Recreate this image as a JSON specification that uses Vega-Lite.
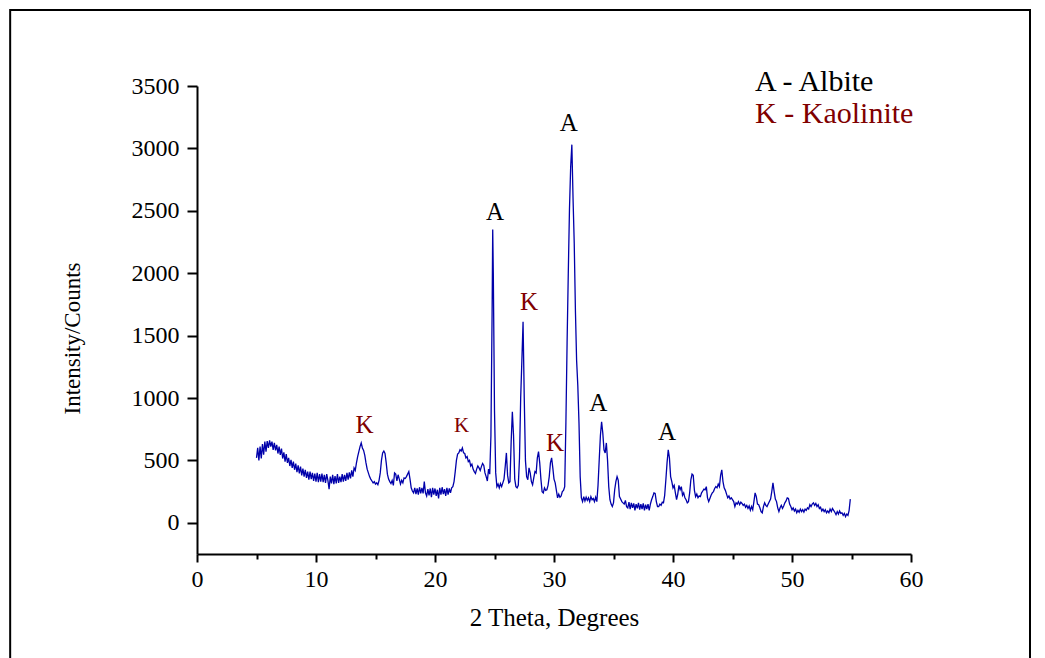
{
  "$schema": "https://vega.github.io/schema/vega-lite/v6.json",
  "width": 714,
  "height": 468,
  "autosize": {"type": "none"},
  "padding": {"left": 197, "top": 86, "right": 134, "bottom": 104},
  "background": "white",
  "config": {
    "view": {"stroke": null},
    "font": "'Liberation Serif', 'DejaVu Serif', serif",
    "text": {"font": "'Liberation Serif', 'DejaVu Serif', serif"},
    "axis": {
      "grid": false,
      "labelFlush": false,
      "labelOverlap": false,
      "domainColor": "black",
      "domainWidth": 2,
      "tickColor": "black",
      "tickWidth": 2,
      "labelColor": "black",
      "labelFont": "'Liberation Serif', 'DejaVu Serif', serif",
      "labelFontSize": 24,
      "titleFont": "'Liberation Serif', 'DejaVu Serif', serif",
      "titleFontWeight": "normal",
      "titleColor": "black"
    }
  },
  "datasets": {
    "xrd": [
      {"theta":5.0,"counts":520},{"theta":5.1,"counts":600},{"theta":5.2,"counts":500},{"theta":5.3,"counts":610},{"theta":5.4,"counts":515},{"theta":5.5,"counts":630},{"theta":5.6,"counts":545},{"theta":5.7,"counts":650},{"theta":5.8,"counts":570},{"theta":5.9,"counts":655},
      {"theta":6.0,"counts":600},{"theta":6.1,"counts":660},{"theta":6.2,"counts":610},{"theta":6.3,"counts":650},{"theta":6.4,"counts":585},{"theta":6.5,"counts":640},{"theta":6.6,"counts":580},{"theta":6.7,"counts":625},{"theta":6.8,"counts":555},{"theta":6.9,"counts":610},
      {"theta":7.0,"counts":545},{"theta":7.1,"counts":595},{"theta":7.2,"counts":515},{"theta":7.3,"counts":565},{"theta":7.4,"counts":490},{"theta":7.5,"counts":550},{"theta":7.6,"counts":480},{"theta":7.7,"counts":520},{"theta":7.8,"counts":455},{"theta":7.9,"counts":505},
      {"theta":8.0,"counts":440},{"theta":8.1,"counts":490},{"theta":8.2,"counts":425},{"theta":8.3,"counts":475},{"theta":8.4,"counts":405},{"theta":8.5,"counts":460},{"theta":8.6,"counts":395},{"theta":8.7,"counts":450},{"theta":8.8,"counts":380},{"theta":8.9,"counts":435},
      {"theta":9.0,"counts":370},{"theta":9.1,"counts":425},{"theta":9.2,"counts":360},{"theta":9.3,"counts":410},{"theta":9.4,"counts":345},{"theta":9.5,"counts":410},{"theta":9.6,"counts":350},{"theta":9.7,"counts":400},{"theta":9.8,"counts":335},{"theta":9.9,"counts":395},
      {"theta":10.0,"counts":330},{"theta":10.1,"counts":400},{"theta":10.2,"counts":325},{"theta":10.3,"counts":390},{"theta":10.4,"counts":330},{"theta":10.5,"counts":395},{"theta":10.6,"counts":325},{"theta":10.7,"counts":385},{"theta":10.8,"counts":320},{"theta":10.9,"counts":390},
      {"theta":11.0,"counts":340},{"theta":11.1,"counts":270},{"theta":11.2,"counts":370},{"theta":11.3,"counts":315},{"theta":11.4,"counts":385},{"theta":11.5,"counts":310},{"theta":11.6,"counts":375},{"theta":11.7,"counts":315},{"theta":11.8,"counts":390},{"theta":11.9,"counts":320},
      {"theta":12.0,"counts":370},{"theta":12.1,"counts":325},{"theta":12.2,"counts":390},{"theta":12.3,"counts":330},{"theta":12.4,"counts":385},{"theta":12.5,"counts":335},{"theta":12.6,"counts":400},{"theta":12.7,"counts":345},{"theta":12.8,"counts":405},{"theta":12.9,"counts":355},
      {"theta":13.0,"counts":420},{"theta":13.1,"counts":370},{"theta":13.2,"counts":440},{"theta":13.3,"counts":420},{"theta":13.4,"counts":480},{"theta":13.5,"counts":530},{"theta":13.6,"counts":570},{"theta":13.7,"counts":610},{"theta":13.8,"counts":640},{"theta":13.9,"counts":600},
      {"theta":14.0,"counts":580},{"theta":14.1,"counts":540},{"theta":14.2,"counts":480},{"theta":14.3,"counts":430},{"theta":14.4,"counts":400},{"theta":14.5,"counts":370},{"theta":14.6,"counts":350},{"theta":14.7,"counts":335},{"theta":14.8,"counts":320},{"theta":14.9,"counts":330},
      {"theta":15.0,"counts":310},{"theta":15.1,"counts":320},{"theta":15.2,"counts":305},{"theta":15.3,"counts":340},{"theta":15.4,"counts":400},{"theta":15.5,"counts":500},{"theta":15.6,"counts":560},{"theta":15.7,"counts":575},{"theta":15.8,"counts":555},{"theta":15.9,"counts":480},
      {"theta":16.0,"counts":390},{"theta":16.1,"counts":350},{"theta":16.2,"counts":330},{"theta":16.3,"counts":315},{"theta":16.4,"counts":340},{"theta":16.5,"counts":300},{"theta":16.6,"counts":400},{"theta":16.7,"counts":390},{"theta":16.8,"counts":335},{"theta":16.9,"counts":385},
      {"theta":17.0,"counts":350},{"theta":17.1,"counts":310},{"theta":17.2,"counts":340},{"theta":17.3,"counts":320},{"theta":17.4,"counts":360},{"theta":17.5,"counts":355},{"theta":17.6,"counts":370},{"theta":17.7,"counts":390},{"theta":17.8,"counts":410},{"theta":17.9,"counts":350},
      {"theta":18.0,"counts":280},{"theta":18.1,"counts":255},{"theta":18.2,"counts":240},{"theta":18.3,"counts":280},{"theta":18.4,"counts":230},{"theta":18.5,"counts":275},{"theta":18.6,"counts":225},{"theta":18.7,"counts":285},{"theta":18.8,"counts":235},{"theta":18.9,"counts":280},
      {"theta":19.0,"counts":235},{"theta":19.1,"counts":330},{"theta":19.2,"counts":240},{"theta":19.3,"counts":215},{"theta":19.4,"counts":270},{"theta":19.5,"counts":220},{"theta":19.6,"counts":275},{"theta":19.7,"counts":205},{"theta":19.8,"counts":280},{"theta":19.9,"counts":225},
      {"theta":20.0,"counts":275},{"theta":20.1,"counts":215},{"theta":20.2,"counts":265},{"theta":20.3,"counts":195},{"theta":20.4,"counts":280},{"theta":20.5,"counts":225},{"theta":20.6,"counts":285},{"theta":20.7,"counts":230},{"theta":20.8,"counts":270},{"theta":20.9,"counts":215},
      {"theta":21.0,"counts":280},{"theta":21.1,"counts":225},{"theta":21.2,"counts":275},{"theta":21.3,"counts":240},{"theta":21.4,"counts":280},{"theta":21.5,"counts":290},{"theta":21.6,"counts":330},{"theta":21.7,"counts":410},{"theta":21.8,"counts":500},{"theta":21.9,"counts":550},
      {"theta":22.0,"counts":560},{"theta":22.1,"counts":585},{"theta":22.2,"counts":575},{"theta":22.3,"counts":600},{"theta":22.4,"counts":560},{"theta":22.5,"counts":555},{"theta":22.6,"counts":520},{"theta":22.7,"counts":530},{"theta":22.8,"counts":490},{"theta":22.9,"counts":500},
      {"theta":23.0,"counts":455},{"theta":23.1,"counts":470},{"theta":23.2,"counts":430},{"theta":23.3,"counts":410},{"theta":23.4,"counts":395},{"theta":23.5,"counts":430},{"theta":23.6,"counts":455},{"theta":23.7,"counts":440},{"theta":23.8,"counts":420},{"theta":23.9,"counts":450},
      {"theta":24.0,"counts":475},{"theta":24.1,"counts":460},{"theta":24.2,"counts":400},{"theta":24.3,"counts":370},{"theta":24.4,"counts":335},{"theta":24.5,"counts":430},{"theta":24.6,"counts":390},{"theta":24.7,"counts":700},{"theta":24.8,"counts":1700},{"theta":24.85,"counts":2350},{"theta":24.9,"counts":2000},
      {"theta":25.0,"counts":900},{"theta":25.1,"counts":400},{"theta":25.2,"counts":290},{"theta":25.3,"counts":310},{"theta":25.4,"counts":280},{"theta":25.5,"counts":315},{"theta":25.6,"counts":290},{"theta":25.7,"counts":320},{"theta":25.8,"counts":350},{"theta":25.9,"counts":450},
      {"theta":26.0,"counts":560},{"theta":26.1,"counts":380},{"theta":26.2,"counts":320},{"theta":26.3,"counts":330},{"theta":26.4,"counts":650},{"theta":26.5,"counts":890},{"theta":26.6,"counts":700},{"theta":26.7,"counts":350},{"theta":26.8,"counts":290},{"theta":26.9,"counts":280},
      {"theta":27.0,"counts":300},{"theta":27.1,"counts":520},{"theta":27.2,"counts":1000},{"theta":27.3,"counts":1300},{"theta":27.4,"counts":1610},{"theta":27.5,"counts":1000},{"theta":27.6,"counts":500},{"theta":27.7,"counts":370},{"theta":27.8,"counts":345},{"theta":27.9,"counts":440},
      {"theta":28.0,"counts":400},{"theta":28.1,"counts":330},{"theta":28.2,"counts":305},{"theta":28.3,"counts":360},{"theta":28.4,"counts":410},{"theta":28.5,"counts":400},{"theta":28.6,"counts":520},{"theta":28.7,"counts":570},{"theta":28.8,"counts":480},{"theta":28.9,"counts":350},
      {"theta":29.0,"counts":250},{"theta":29.1,"counts":240},{"theta":29.2,"counts":280},{"theta":29.3,"counts":260},{"theta":29.4,"counts":265},{"theta":29.5,"counts":300},{"theta":29.6,"counts":370},{"theta":29.7,"counts":480},{"theta":29.8,"counts":520},{"theta":29.9,"counts":440},
      {"theta":30.0,"counts":350},{"theta":30.1,"counts":320},{"theta":30.2,"counts":260},{"theta":30.3,"counts":200},{"theta":30.4,"counts":230},{"theta":30.5,"counts":205},{"theta":30.6,"counts":215},{"theta":30.7,"counts":250},{"theta":30.8,"counts":260},{"theta":30.9,"counts":290},
      {"theta":31.0,"counts":800},{"theta":31.1,"counts":1440},{"theta":31.2,"counts":2000},{"theta":31.3,"counts":2510},{"theta":31.4,"counts":2850},{"theta":31.5,"counts":3030},{"theta":31.6,"counts":2600},{"theta":31.7,"counts":2240},{"theta":31.8,"counts":1700},{"theta":31.9,"counts":1300},
      {"theta":32.0,"counts":1100},{"theta":32.1,"counts":800},{"theta":32.2,"counts":370},{"theta":32.3,"counts":200},{"theta":32.4,"counts":170},{"theta":32.5,"counts":210},{"theta":32.6,"counts":175},{"theta":32.7,"counts":205},{"theta":32.8,"counts":180},{"theta":32.9,"counts":200},
      {"theta":33.0,"counts":170},{"theta":33.1,"counts":210},{"theta":33.2,"counts":185},{"theta":33.3,"counts":195},{"theta":33.4,"counts":170},{"theta":33.5,"counts":205},{"theta":33.6,"counts":170},{"theta":33.7,"counts":300},{"theta":33.8,"counts":505},{"theta":33.9,"counts":700},
      {"theta":34.0,"counts":810},{"theta":34.1,"counts":720},{"theta":34.2,"counts":585},{"theta":34.3,"counts":560},{"theta":34.4,"counts":640},{"theta":34.5,"counts":500},{"theta":34.6,"counts":290},{"theta":34.7,"counts":185},{"theta":34.8,"counts":150},{"theta":34.9,"counts":130},
      {"theta":35.0,"counts":160},{"theta":35.1,"counts":265},{"theta":35.2,"counts":330},{"theta":35.3,"counts":370},{"theta":35.4,"counts":340},{"theta":35.5,"counts":210},{"theta":35.6,"counts":190},{"theta":35.7,"counts":170},{"theta":35.8,"counts":160},{"theta":35.9,"counts":150},
      {"theta":36.0,"counts":180},{"theta":36.1,"counts":130},{"theta":36.2,"counts":120},{"theta":36.3,"counts":165},{"theta":36.4,"counts":110},{"theta":36.5,"counts":160},{"theta":36.6,"counts":120},{"theta":36.7,"counts":155},{"theta":36.8,"counts":100},{"theta":36.9,"counts":150},
      {"theta":37.0,"counts":115},{"theta":37.1,"counts":160},{"theta":37.2,"counts":105},{"theta":37.3,"counts":150},{"theta":37.4,"counts":110},{"theta":37.5,"counts":155},{"theta":37.6,"counts":100},{"theta":37.7,"counts":145},{"theta":37.8,"counts":110},{"theta":37.9,"counts":150},
      {"theta":38.0,"counts":100},{"theta":38.1,"counts":150},{"theta":38.2,"counts":185},{"theta":38.3,"counts":210},{"theta":38.4,"counts":240},{"theta":38.5,"counts":235},{"theta":38.6,"counts":170},{"theta":38.7,"counts":130},{"theta":38.8,"counts":130},{"theta":38.9,"counts":150},
      {"theta":39.0,"counts":140},{"theta":39.1,"counts":165},{"theta":39.2,"counts":160},{"theta":39.3,"counts":220},{"theta":39.4,"counts":345},{"theta":39.5,"counts":480},{"theta":39.6,"counts":585},{"theta":39.7,"counts":520},{"theta":39.8,"counts":370},{"theta":39.9,"counts":330},
      {"theta":40.0,"counts":280},{"theta":40.1,"counts":300},{"theta":40.2,"counts":240},{"theta":40.3,"counts":185},{"theta":40.4,"counts":230},{"theta":40.5,"counts":300},{"theta":40.6,"counts":265},{"theta":40.7,"counts":290},{"theta":40.8,"counts":220},{"theta":40.9,"counts":240},
      {"theta":41.0,"counts":200},{"theta":41.1,"counts":185},{"theta":41.2,"counts":160},{"theta":41.3,"counts":170},{"theta":41.4,"counts":240},{"theta":41.5,"counts":345},{"theta":41.6,"counts":390},{"theta":41.7,"counts":380},{"theta":41.8,"counts":260},{"theta":41.9,"counts":210},
      {"theta":42.0,"counts":230},{"theta":42.1,"counts":200},{"theta":42.2,"counts":215},{"theta":42.3,"counts":210},{"theta":42.4,"counts":240},{"theta":42.5,"counts":255},{"theta":42.6,"counts":270},{"theta":42.7,"counts":265},{"theta":42.8,"counts":290},{"theta":42.9,"counts":200},
      {"theta":43.0,"counts":170},{"theta":43.1,"counts":195},{"theta":43.2,"counts":220},{"theta":43.3,"counts":240},{"theta":43.4,"counts":250},{"theta":43.5,"counts":275},{"theta":43.6,"counts":290},{"theta":43.7,"counts":280},{"theta":43.8,"counts":310},{"theta":43.9,"counts":290},
      {"theta":44.0,"counts":380},{"theta":44.1,"counts":425},{"theta":44.2,"counts":330},{"theta":44.3,"counts":280},{"theta":44.4,"counts":260},{"theta":44.5,"counts":230},{"theta":44.6,"counts":200},{"theta":44.7,"counts":215},{"theta":44.8,"counts":190},{"theta":44.9,"counts":200},
      {"theta":45.0,"counts":185},{"theta":45.1,"counts":170},{"theta":45.2,"counts":130},{"theta":45.3,"counts":160},{"theta":45.4,"counts":150},{"theta":45.5,"counts":170},{"theta":45.6,"counts":145},{"theta":45.7,"counts":165},{"theta":45.8,"counts":155},{"theta":45.9,"counts":140},
      {"theta":46.0,"counts":150},{"theta":46.1,"counts":125},{"theta":46.2,"counts":140},{"theta":46.3,"counts":115},{"theta":46.4,"counts":135},{"theta":46.5,"counts":100},{"theta":46.6,"counts":130},{"theta":46.7,"counts":105},{"theta":46.8,"counts":170},{"theta":46.9,"counts":240},
      {"theta":47.0,"counts":210},{"theta":47.1,"counts":150},{"theta":47.2,"counts":145},{"theta":47.3,"counts":120},{"theta":47.4,"counts":90},{"theta":47.5,"counts":80},{"theta":47.6,"counts":130},{"theta":47.7,"counts":160},{"theta":47.8,"counts":140},{"theta":47.9,"counts":130},
      {"theta":48.0,"counts":150},{"theta":48.1,"counts":170},{"theta":48.2,"counts":190},{"theta":48.3,"counts":250},{"theta":48.4,"counts":320},{"theta":48.5,"counts":250},{"theta":48.6,"counts":190},{"theta":48.7,"counts":170},{"theta":48.8,"counts":120},{"theta":48.9,"counts":90},
      {"theta":49.0,"counts":120},{"theta":49.1,"counts":140},{"theta":49.2,"counts":115},{"theta":49.3,"counts":135},{"theta":49.4,"counts":160},{"theta":49.5,"counts":175},{"theta":49.6,"counts":200},{"theta":49.7,"counts":195},{"theta":49.8,"counts":150},{"theta":49.9,"counts":130},
      {"theta":50.0,"counts":105},{"theta":50.1,"counts":120},{"theta":50.2,"counts":95},{"theta":50.3,"counts":110},{"theta":50.4,"counts":80},{"theta":50.5,"counts":100},{"theta":50.6,"counts":85},{"theta":50.7,"counts":110},{"theta":50.8,"counts":90},{"theta":50.9,"counts":105},
      {"theta":51.0,"counts":85},{"theta":51.1,"counts":110},{"theta":51.2,"counts":100},{"theta":51.3,"counts":120},{"theta":51.4,"counts":110},{"theta":51.5,"counts":145},{"theta":51.6,"counts":130},{"theta":51.7,"counts":150},{"theta":51.8,"counts":160},{"theta":51.9,"counts":140},
      {"theta":52.0,"counts":155},{"theta":52.1,"counts":130},{"theta":52.2,"counts":145},{"theta":52.3,"counts":115},{"theta":52.4,"counts":125},{"theta":52.5,"counts":95},{"theta":52.6,"counts":110},{"theta":52.7,"counts":90},{"theta":52.8,"counts":105},{"theta":52.9,"counts":80},
      {"theta":53.0,"counts":95},{"theta":53.1,"counts":80},{"theta":53.2,"counts":110},{"theta":53.3,"counts":90},{"theta":53.4,"counts":115},{"theta":53.5,"counts":100},{"theta":53.6,"counts":85},{"theta":53.7,"counts":65},{"theta":53.8,"counts":90},{"theta":53.9,"counts":70},
      {"theta":54.0,"counts":95},{"theta":54.1,"counts":75},{"theta":54.2,"counts":80},{"theta":54.3,"counts":60},{"theta":54.4,"counts":75},{"theta":54.5,"counts":50},{"theta":54.6,"counts":70},{"theta":54.7,"counts":60},{"theta":54.8,"counts":100},{"theta":54.9,"counts":190}
    ],
    "peaks": [
      {"theta":14.07,"counts":785,"phase":"K","mark":"K"},
      {"theta":22.24,"counts":777,"phase":"K","mark":"k"},
      {"theta":25.04,"counts":2487,"phase":"A","mark":"A"},
      {"theta":27.9,"counts":1773,"phase":"K","mark":"K"},
      {"theta":30.08,"counts":641,"phase":"K","mark":"K"},
      {"theta":31.25,"counts":3204,"phase":"A","mark":"A"},
      {"theta":33.72,"counts":961,"phase":"A","mark":"A"},
      {"theta":39.5,"counts":729,"phase":"A","mark":"A"}
    ],
    "key": [
      {"theta":46.9,"counts":3535,"phase":"A","text":"A - Albite"},
      {"theta":46.9,"counts":3276,"phase":"K","text":"K - Kaolinite"}
    ]
  },
  "layer": [
    {
      "data": {"values": [{}]},
      "mark": {"type": "rect", "fill": null, "fillOpacity": 0, "stroke": "black", "strokeWidth": 2, "clip": false},
      "encoding": {
        "x": {"datum": -15.7, "type": "quantitative", "scale": {"domain": [0, 60], "nice": false, "zero": false}},
        "x2": {"datum": 70.0},
        "y": {"datum": 4109, "type": "quantitative", "scale": {"domain": [-250, 3500], "nice": false, "zero": false}},
        "y2": {"datum": -2500}
      }
    },
    {
      "data": {"name": "xrd"},
      "mark": {"type": "line", "color": "#0000AA", "strokeWidth": 1.3, "clip": false},
      "encoding": {
        "x": {
          "field": "theta", "type": "quantitative",
          "scale": {"domain": [0, 60], "nice": false, "zero": false},
          "axis": {
            "values": [0,5,10,15,20,25,30,35,40,45,50,55,60],
            "format": "d",
            "labelExpr": "datum.value % 10 === 0 ? datum.label : ''",
            "tickSize": {"condition": {"test": "datum.value % 10 === 0", "value": 8}, "value": 5},
            "labelPadding": 5,
            "title": "2 Theta, Degrees",
            "titleFontSize": 25,
            "titlePadding": 14
          }
        },
        "y": {
          "field": "counts", "type": "quantitative",
          "scale": {"domain": [-250, 3500], "nice": false, "zero": false},
          "axis": {
            "values": [0,250,500,750,1000,1250,1500,1750,2000,2250,2500,2750,3000,3250,3500],
            "format": "d",
            "labelExpr": "datum.value % 500 === 0 ? datum.label : ''",
            "tickSize": {"condition": {"test": "datum.value % 500 === 0", "value": 10}, "value": 6},
            "labelPadding": 8,
            "title": "Intensity/Counts",
            "titleFontSize": 23,
            "titleBaseline": "middle",
            "titleX": -125,
            "titleY": 252
          }
        }
      }
    },
    {
      "data": {"name": "peaks"},
      "transform": [{"filter": "datum.mark !== 'k'"}],
      "mark": {"type": "text", "fontSize": 25, "baseline": "middle", "align": "center", "clip": false},
      "encoding": {
        "x": {"field": "theta", "type": "quantitative"},
        "y": {"field": "counts", "type": "quantitative"},
        "text": {"field": "phase"},
        "color": {"field": "phase", "type": "nominal", "scale": {"domain": ["A", "K"], "range": ["black", "#800000"]}, "legend": null}
      }
    },
    {
      "data": {"name": "peaks"},
      "transform": [{"filter": "datum.mark === 'k'"}],
      "mark": {"type": "text", "fontSize": 21, "baseline": "middle", "align": "center", "clip": false},
      "encoding": {
        "x": {"field": "theta", "type": "quantitative"},
        "y": {"field": "counts", "type": "quantitative"},
        "text": {"field": "phase"},
        "color": {"field": "phase", "type": "nominal", "scale": {"domain": ["A", "K"], "range": ["black", "#800000"]}, "legend": null}
      }
    },
    {
      "data": {"name": "key"},
      "mark": {"type": "text", "fontSize": 30, "baseline": "middle", "align": "left", "clip": false},
      "encoding": {
        "x": {"field": "theta", "type": "quantitative"},
        "y": {"field": "counts", "type": "quantitative"},
        "text": {"field": "text"},
        "color": {"field": "phase", "type": "nominal", "scale": {"domain": ["A", "K"], "range": ["black", "#800000"]}, "legend": null}
      }
    }
  ]
}
